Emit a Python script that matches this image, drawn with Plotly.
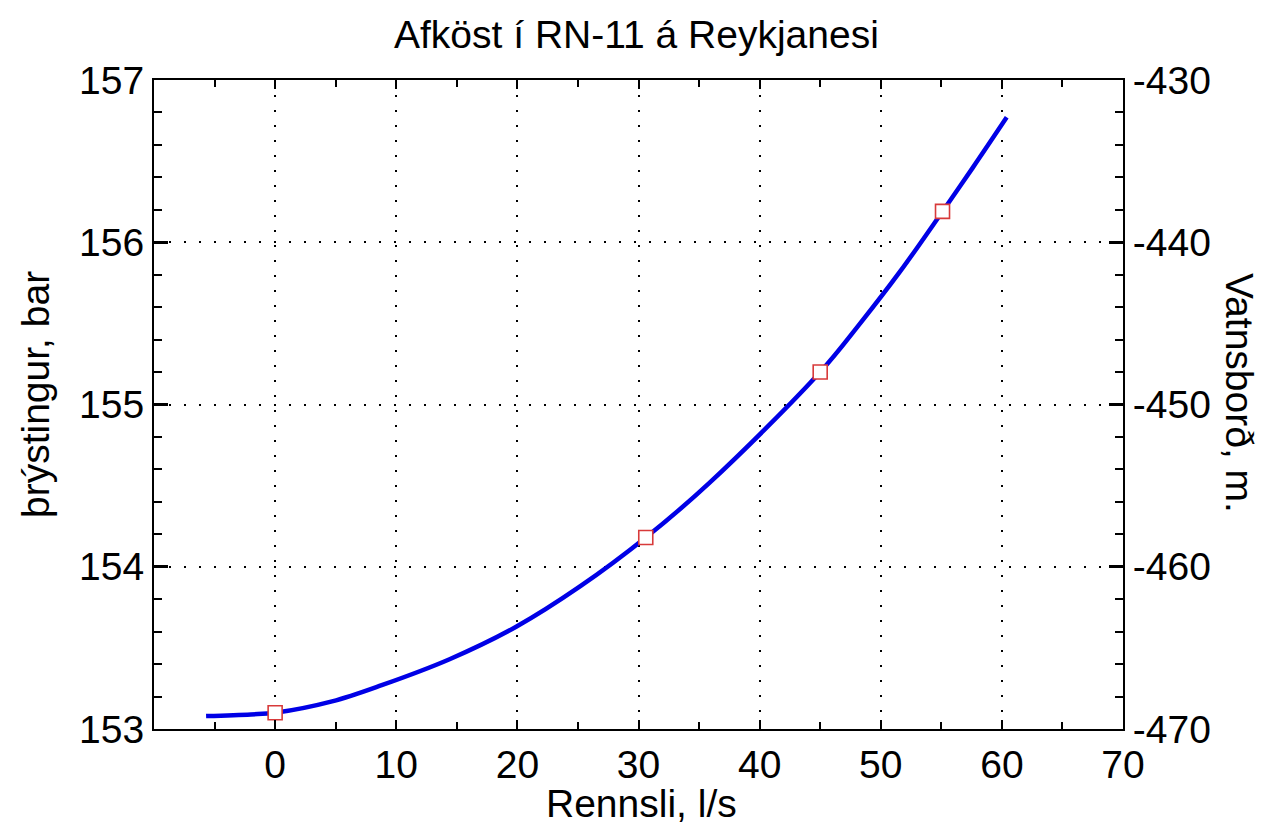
import plotly.graph_objects as go

# Fitted performance curve for well RN-11 (flow in l/s vs. wellhead pressure in bar)
flow_curve = [-5.7, -2.0, 0.0, 4.7, 8.8, 14.4, 19.9, 25.2, 30.6, 35.9,
              45.0, 48.3, 51.6, 55.1, 57.6, 60.4]
pressure_curve = [153.08, 153.09, 153.10, 153.17, 153.27, 153.43, 153.63, 153.88,
                  154.18, 154.52, 155.20, 155.50, 155.82, 156.19, 156.46, 156.77]

# Measured points
flow_meas = [0.0, 30.6, 45.0, 55.1]
pressure_meas = [153.10, 154.18, 155.20, 156.19]

x_ticks = [0, 10, 20, 30, 40, 50, 60, 70]
y_ticks = [153, 154, 155, 156, 157]
y2_ticks = [-470, -460, -450, -440, -430]
y2_labels = ["-470", "-460", "-450", "-440", "-430"]

FONT = "Liberation Sans, Arial, sans-serif"
W, H = 1273, 832
L, R, T, B = 154, 150, 80, 103
TICK_SIZE = 39
TITLE_SIZE = 39

fig = go.Figure()

fig.add_trace(go.Scatter(
    x=flow_curve, y=pressure_curve, mode="lines",
    line=dict(color="#0000e6", width=4.5, shape="spline", smoothing=1.0),
    hoverinfo="skip", showlegend=False,
))
fig.add_trace(go.Scatter(
    x=flow_meas, y=pressure_meas, mode="markers",
    marker=dict(symbol="square", size=14, color="white",
                line=dict(color="#d83a3a", width=1.6)),
    showlegend=False,
))
# Invisible trace to activate the secondary (water level) axis
fig.add_trace(go.Scatter(
    x=[None], y=[None], yaxis="y2", mode="lines", showlegend=False, hoverinfo="skip",
))

grid = dict(showgrid=True, gridcolor="black", gridwidth=1.6, griddash="2px,13px")

fig.update_layout(
    width=W, height=H,
    margin=dict(l=L, r=R, t=T, b=B),
    paper_bgcolor="white", plot_bgcolor="white",
    font=dict(family=FONT, color="black"),
    xaxis=dict(
        range=[-10, 70], tickvals=x_ticks, ticks="inside", ticklen=9, tickwidth=2,
        tickcolor="black", showline=True, linecolor="black", linewidth=2,
        mirror="ticks", zeroline=False,
        tickfont=dict(size=TICK_SIZE, family=FONT),
        minor=dict(dtick=5, tick0=0, ticks="inside", ticklen=7, tickwidth=1.5,
                   tickcolor="black", showgrid=False),
        **grid,
    ),
    yaxis=dict(
        range=[153, 157], tickvals=y_ticks, ticks="inside", ticklen=14, tickwidth=2.5,
        tickcolor="black", showline=True, linecolor="black", linewidth=2,
        mirror=False, zeroline=False,
        tickfont=dict(size=TICK_SIZE, family=FONT),
        minor=dict(dtick=0.2, tick0=153, ticks="inside", ticklen=8, tickwidth=1.5,
                   tickcolor="black", showgrid=False),
        **grid,
    ),
    yaxis2=dict(
        range=[-470, -430], tickvals=y2_ticks, ticktext=y2_labels,
        overlaying="y", side="right", anchor="x",
        ticks="inside", ticklen=14, tickwidth=2.5, tickcolor="black",
        showline=True, linecolor="black", linewidth=2, showgrid=False, zeroline=False,
        tickfont=dict(size=TICK_SIZE, family=FONT),
        minor=dict(dtick=2, tick0=-470, ticks="inside", ticklen=8, tickwidth=1.5,
                   tickcolor="black", showgrid=False),
    ),
    annotations=[
        dict(text="Afköst í RN-11 á Reykjanesi", xref="paper", yref="paper",
             x=(636 - L) / (W - L - R), y=1 + (T - 35) / (H - T - B),
             xanchor="center", yanchor="middle",
             showarrow=False, font=dict(size=TITLE_SIZE, family=FONT)),
        dict(text="Rennsli, l/s", xref="paper", yref="paper",
             x=(641 - L) / (W - L - R), y=-(803 - (H - B)) / (H - T - B),
             xanchor="center", yanchor="middle",
             showarrow=False, font=dict(size=TITLE_SIZE, family=FONT)),
        dict(text="þrýstingur, bar", xref="paper", yref="paper",
             x=-(L - 35) / (W - L - R), y=(H - B - 395) / (H - T - B),
             xanchor="center", yanchor="middle", textangle=-90,
             showarrow=False, font=dict(size=TITLE_SIZE, family=FONT)),
        dict(text="Vatnsborð, m.", xref="paper", yref="paper",
             x=1 + (1240 - (W - R)) / (W - L - R), y=(H - B - 393) / (H - T - B),
             xanchor="center", yanchor="middle", textangle=90,
             showarrow=False, font=dict(size=TITLE_SIZE, family=FONT)),
    ],
)

fig.write_html("out.html")
